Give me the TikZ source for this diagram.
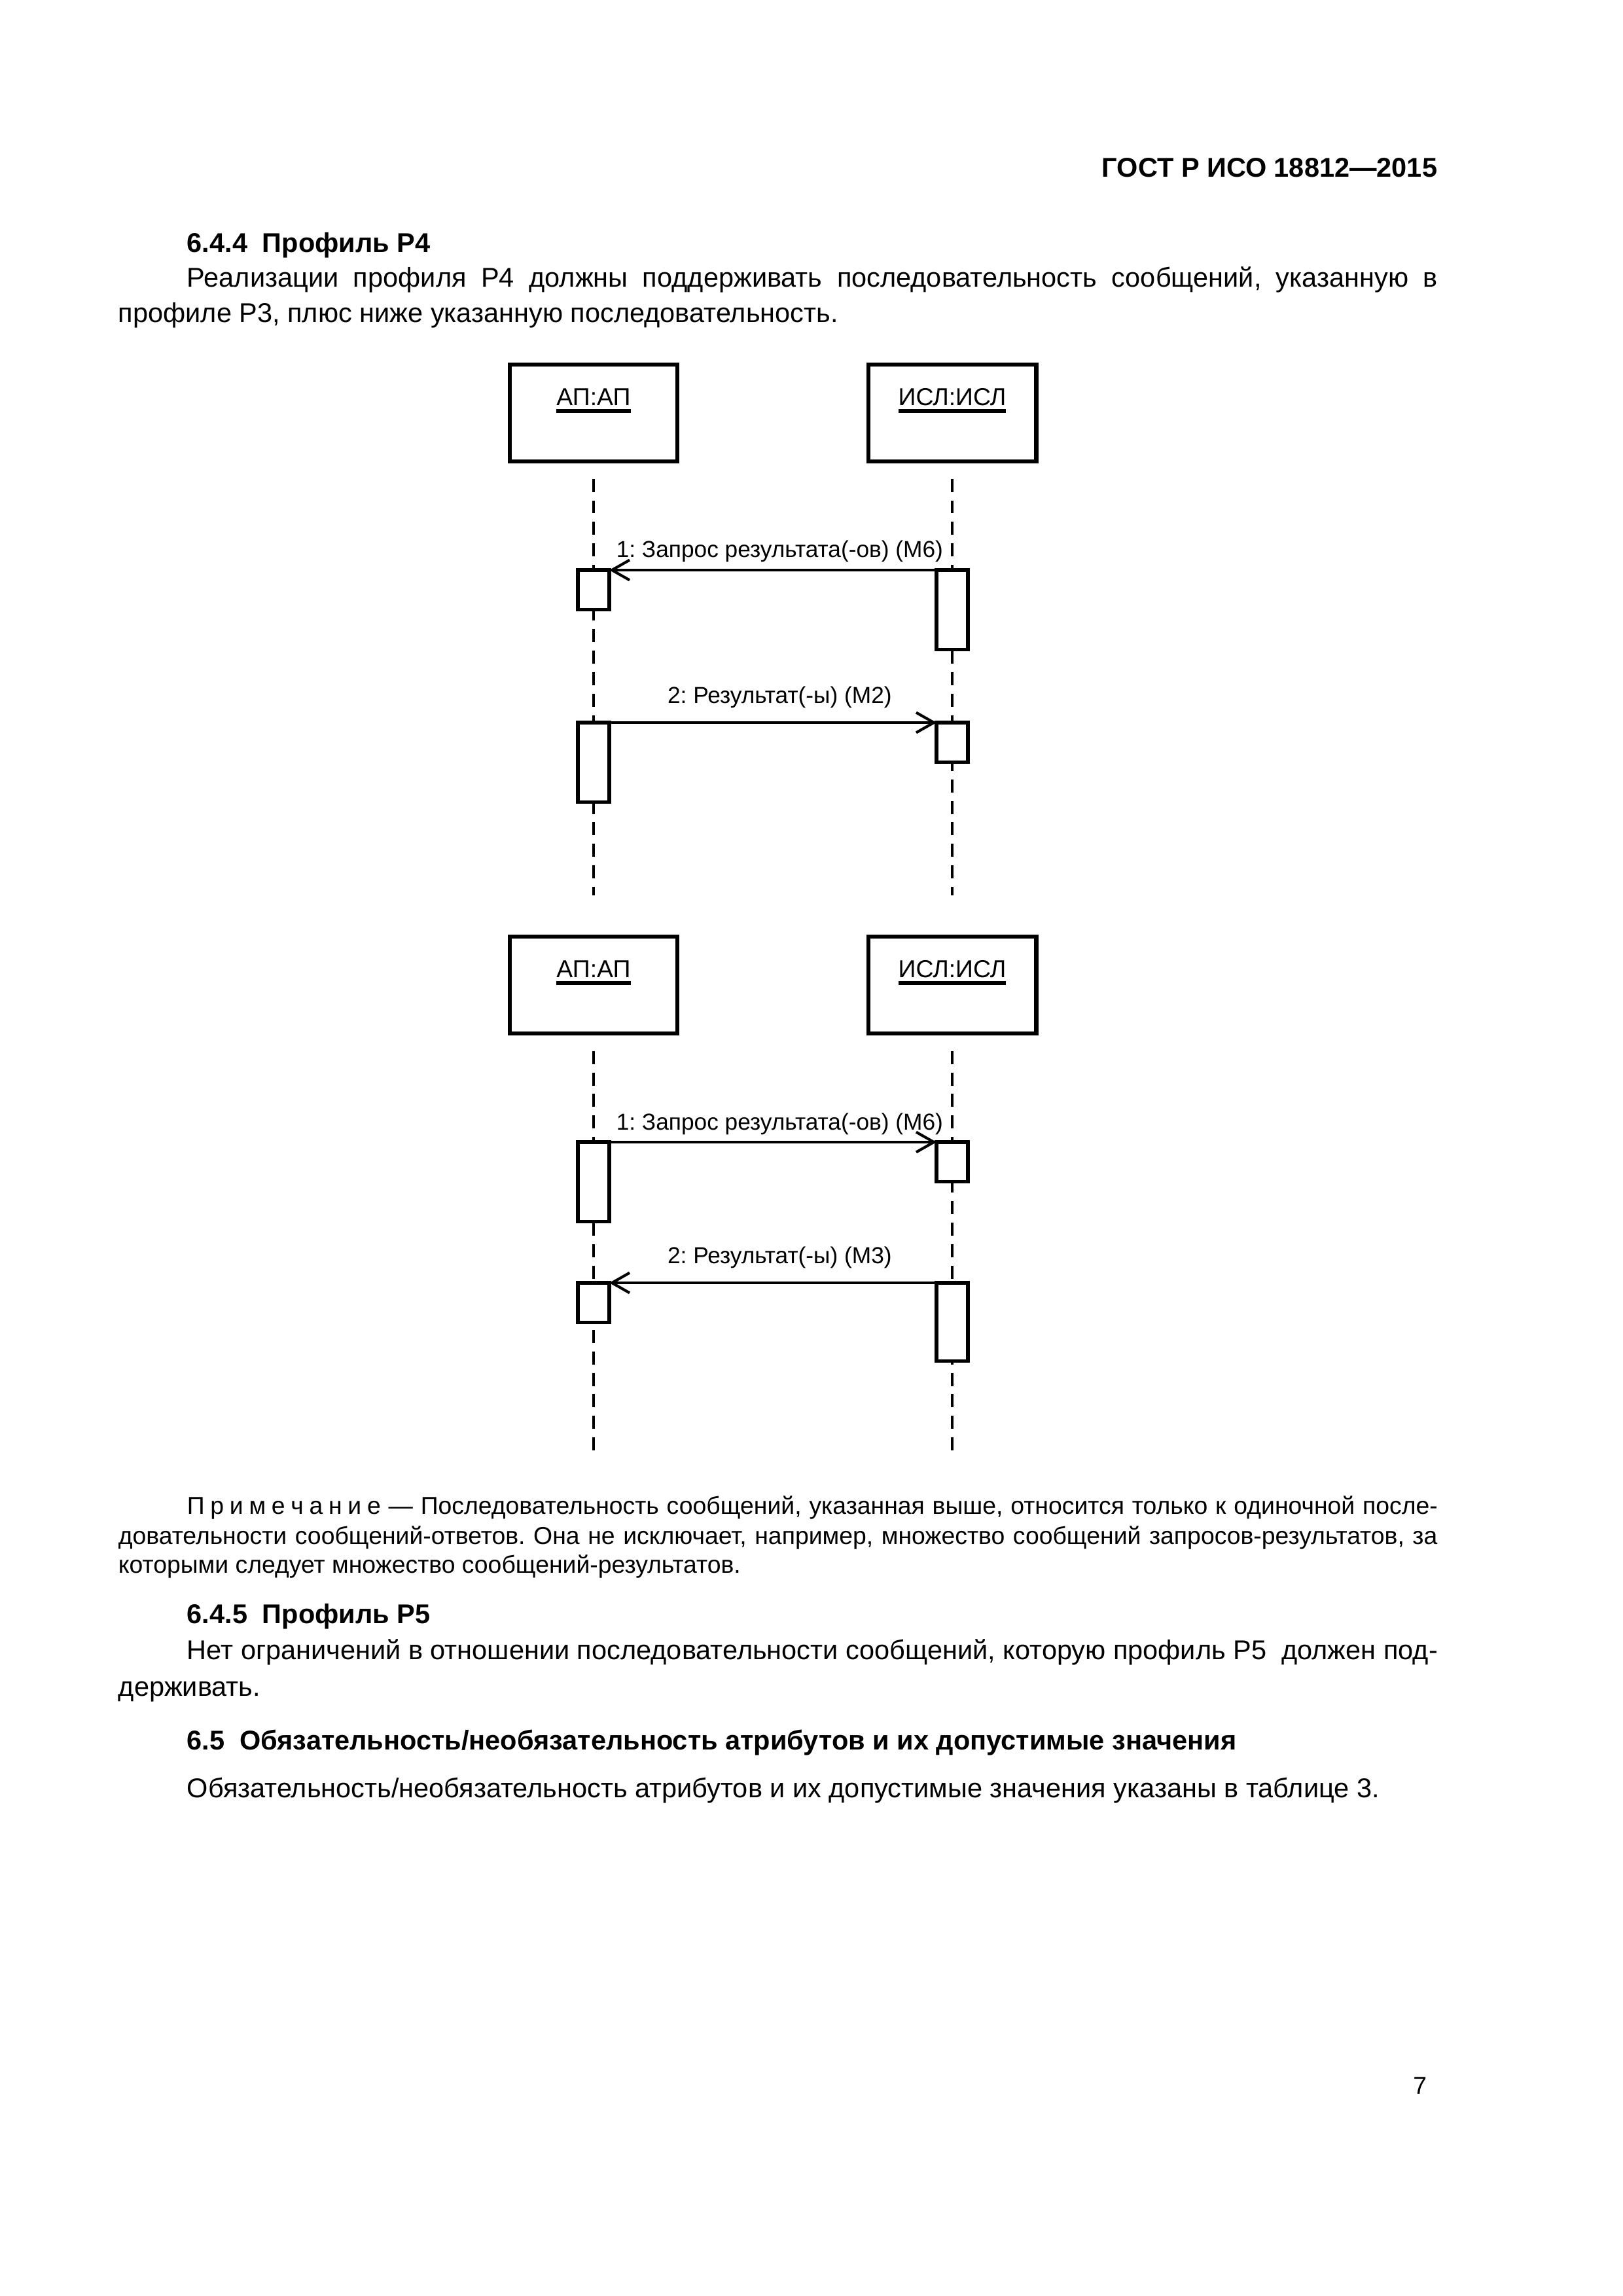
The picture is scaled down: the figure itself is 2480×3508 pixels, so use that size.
\documentclass[tikz,border=0pt]{standalone}
\usepackage{fontspec}
\setmainfont{Liberation Sans}
\usetikzlibrary{positioning,arrows.meta}
\frenchspacing

\newcommand{\bodyfont}{\fontsize{10pt}{12pt}\selectfont}
\newcommand{\notefont}{\fontsize{9pt}{11pt}\selectfont}
\newcommand{\objname}[1]{\setbox0=\hbox{#1}\rlap{\copy0}\raisebox{-2.6pt}{\rule{\wd0}{1.4pt}}}

\begin{document}
\begin{tikzpicture}[x=0.0846774mm, y=-0.0846774mm,
  objbox/.style={draw, line width=1.45pt, minimum width=61.9pt, minimum height=35.5pt, inner sep=0pt},
  objlbl/.style={anchor=base, inner sep=0pt, font=\fontsize{9pt}{11pt}\selectfont},
  lifeline/.style={line width=0.95pt, dash pattern=on 4.8pt off 3.1pt},
  act/.style={draw, fill=white, line width=1.3pt, minimum width=11.5pt, minimum height=#1, inner sep=0pt, outer sep=0pt, anchor=north},
  msg/.style={line width=1pt, -{Straight Barb[length=6.5pt,width=7.4pt]}},
  msglbl/.style={anchor=base, inner sep=0pt, xshift=2.5pt, yshift=#1, font=\fontsize{8.5pt}{10pt}\selectfont},
  txt/.style={anchor=base west, inner sep=0pt, font=\bodyfont},
  note/.style={anchor=base west, inner sep=0pt, font=\notefont},
  sect/.style={anchor=base west, inner sep=0pt, font=\bodyfont\bfseries},
  hdr/.style={anchor=base east, inner sep=0pt, font=\bodyfont\bfseries},
  pgnum/.style={anchor=base east, inner sep=0pt, font=\notefont}]
  \fill[white] (0,0) rectangle (2480,3508);

  % page text above the diagram
  \node[hdr] (gost) at (2197,270) {ГОСТ Р ИСО 18812—2015};
  \node[sect] (s644) at (285,385) {6.4.4\hspace{5.5pt}Профиль Р4};
  \node[txt] (p1a) at (285,438) {\makebox[460.4pt][s]{Реализации профиля Р4 должны поддерживать последовательность сообщений, указанную в}};
  \node[txt] (p1b) at (180,492) {профиле Р3, плюс ниже указанную последовательность.};

  % first sequence
  \node[objbox] (ap1) at (907,631) {};
  \node[objbox] (isl1) at (1455,631) {};
  \node[objlbl] (ap1n) at ([yshift=-15.8pt]ap1.north) {\objname{АП:АП}};
  \node[objlbl] (isl1n) at ([yshift=-15.8pt]isl1.north) {\objname{ИСЛ:ИСЛ}};
  \coordinate (ap1end) at (907,1368);
  \coordinate (isl1end) at (1455,1368);
  \draw[lifeline] ([yshift=-5.8pt]ap1.south) -- (ap1end);
  \draw[lifeline] ([yshift=-5.8pt]isl1.south) -- (isl1end);
  \node[act=14.6pt] (ap1a) at (907,871) {};
  \node[act=29.3pt] (isl1a) at (1455,871) {};
  \node[act=29.3pt] (ap1b) at (907,1104) {};
  \node[act=14.6pt] (isl1b) at (1455,1104) {};
  \draw[msg] (isl1a.north west) -- node[msglbl=4.6pt] {1: Запрос результата(-ов) (М6)} (ap1a.north east);
  \draw[msg] (ap1b.north east) -- node[msglbl=7.2pt] {2: Результат(-ы) (М2)} (isl1b.north west);

  % second sequence
  \node[objbox] (ap2) at (907,1505) {};
  \node[objbox] (isl2) at (1455,1505) {};
  \node[objlbl] (ap2n) at ([yshift=-15.8pt]ap2.north) {\objname{АП:АП}};
  \node[objlbl] (isl2n) at ([yshift=-15.8pt]isl2.north) {\objname{ИСЛ:ИСЛ}};
  \coordinate (ap2end) at (907,2224);
  \coordinate (isl2end) at (1455,2224);
  \draw[lifeline] ([yshift=-5.8pt]ap2.south) -- (ap2end);
  \draw[lifeline] ([yshift=-5.8pt]isl2.south) -- (isl2end);
  \node[act=29.3pt] (ap2a) at (907,1745) {};
  \node[act=14.6pt] (isl2a) at (1455,1745) {};
  \node[act=28.8pt] (isl2b) at (1455,1960) {};
  \node[act=14.6pt] (ap2b) at (907,1960) {};
  \draw[msg] (ap2a.north east) -- node[msglbl=4.4pt] {1: Запрос результата(-ов) (М6)} (isl2a.north west);
  \draw[msg] (isl2b.north west) -- node[msglbl=7.2pt] {2: Результат(-ы) (М3)} (ap2b.north east);

  % note and following sections
  \node[note] (n1) at (285,2313) {\makebox[460.4pt][s]{П\kern2.1pt р\kern2.1pt и\kern2.1pt м\kern2.1pt е\kern2.1pt ч\kern2.1pt а\kern2.1pt н\kern2.1pt и\kern2.1pt е — Последовательность сообщений, указанная выше, относится только к одиночной после-}};
  \node[note] (n2) at (180,2359) {\makebox[485.6pt][s]{довательности сообщений-ответов. Она не исключает, например, множество сообщений запросов-результатов, за}};
  \node[note] (n3) at (180,2403) {которыми следует множество сообщений-результатов.};
  \node[sect] (s645) at (285,2480) {6.4.5\hspace{5.5pt}Профиль Р5};
  \node[txt] (p2a) at (285,2535) {\makebox[460.4pt][s]{Нет ограничений в отношении последовательности сообщений, которую профиль Р5 \ должен под-}};
  \node[txt] (p2b) at (180,2591) {держивать.};
  \node[sect] (s65) at (285,2673) {6.5\hspace{5.5pt}Обязательность/необязательность атрибутов и их допустимые значения};
  \node[txt] (p3) at (285,2746) {Обязательность/необязательность атрибутов и их допустимые значения указаны в таблице 3.};
  \node[pgnum] (pg) at (2181,3199) {7};
\end{tikzpicture}
\end{document}
